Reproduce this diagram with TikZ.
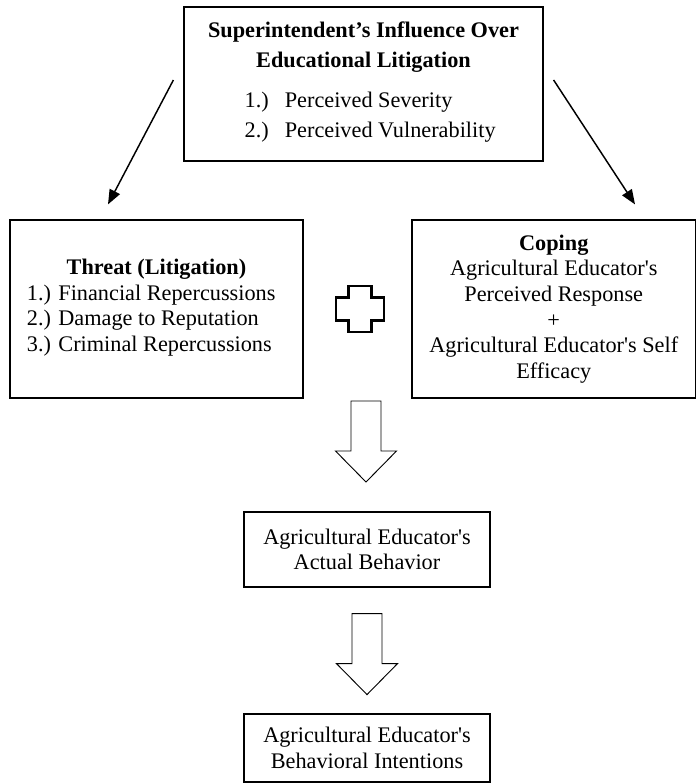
\documentclass[tikz,border=0pt]{standalone}
\usepackage{fontspec}
\setmainfont{Liberation Serif}
\usetikzlibrary{arrows.meta}
\newcommand{\aps}{\textquotesingle}

\begin{document}
\begin{tikzpicture}[x=0.75pt,y=-0.75pt,font=\fontsize{16.7}{19.2}\selectfont,
  box/.style={draw,line width=0.9pt,align=center,inner sep=0pt},
  link/.style={line width=1.1pt,-{Triangle[length=11pt,width=8.5pt]}},
  fat down/.pic={\draw[line width=0.7pt,line join=miter] (-15,0) -- (-15,50) -- (-30.5,50) -- (0,81) -- (30.5,50) -- (15,50) -- (15,0) -- cycle;}]
\useasboundingbox (0,0) rectangle (697,784);
\node[box,minimum width=269.25pt,minimum height=115.5pt,font=\fontsize{16.7}{22.5}\selectfont] (sup) at (363.5,84)
  {\textbf{Superintendent’s Influence Over}\\\textbf{Educational Litigation}\\[7.5pt]\hspace*{10pt}\begin{tabular}[t]{@{}l@{\hspace{12pt}}l@{}}1.)&Perceived Severity\\2.)&Perceived Vulnerability\end{tabular}};
\node[box,minimum width=219.75pt,minimum height=133.5pt] (threat) at (156.5,309)
  {\textbf{Threat (Litigation)}\\\hspace*{-8pt}\begin{tabular}[t]{@{}l@{}}1.) Financial Repercussions\\2.) Damage to Reputation\\3.) Criminal Repercussions\end{tabular}};
\node[box,minimum width=212.6pt,minimum height=133.5pt] (coping) at (553.75,309)
  {\textbf{Coping}\\Agricultural Educator\aps s\\Perceived Response\\+\\Agricultural Educator\aps s Self\\Efficacy};
\node[box,minimum width=184.5pt,minimum height=56.25pt] (behav) at (367,549.5) {Agricultural Educator\aps s\\Actual Behavior};
\node[box,minimum width=184.5pt,minimum height=51pt] (intent) at (367,748) {Agricultural Educator\aps s\\Behavioral Intentions};
\draw[link] ([shift={(-10,-4)}]sup.west) -- ([shift={(-48.5,-15)}]threat.north);
\draw[link] ([shift={(10,-4)}]sup.east) -- ([shift={(81.25,-15)}]coping.north);
\coordinate (plus) at (360,309);
\draw[line width=1.8pt,line join=miter,shift={(plus)}] (-11.5,-23) -- (11.5,-23) -- (11.5,-11.5) -- (24,-11.5) -- (24,11.5) -- (11.5,11.5)
  -- (11.5,23) -- (-11.5,23) -- (-11.5,11.5) -- (-24,11.5) -- (-24,-11.5) -- (-11.5,-11.5) -- cycle;
\path (366,401) pic {fat down};
\path ([yshift=-26*0.75pt]behav.south) pic {fat down};
\end{tikzpicture}
\end{document}
